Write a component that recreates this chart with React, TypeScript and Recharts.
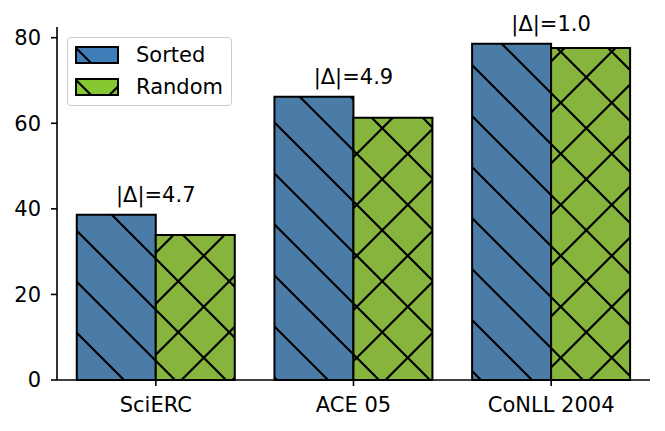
import { Bar, BarChart, LabelList, Legend, XAxis, YAxis } from "recharts";

const categories = ["SciERC", "ACE 05", "CoNLL 2004"];
const sortedScores = [38.6, 66.2, 78.6];
const randomScores = [33.9, 61.3, 77.6];
const deltaLabels = ["|Δ|=4.7", "|Δ|=4.9", "|Δ|=1.0"];
const yTicks = [0, 20, 40, 60, 80];

const font = "'DejaVu Sans', sans-serif";
const fontSize = 21;
const series = [
  { key: "sorted", label: "Sorted", color: "#4b7ba7", legendColor: "#3f7db8", hatch: "back" },
  { key: "random", label: "Random", color: "#86b43c", legendColor: "#86c832", hatch: "cross" },
] as const;

const data = categories.map((name, i) => ({
  name,
  sorted: sortedScores[i],
  random: randomScores[i],
  delta: deltaLabels[i],
}));

// hatch tiles, phase (51px period)
const backPath = "M-5,-4 L56,57 M-5,-55 L56,6 M-5,47 L56,108";
const fwdPath = "M-5,56.5 L56,-4.5 M-5,5.5 L56,-55.5 M-5,107.5 L56,46.5";

function Hatch({ id, color, kind }: { id: string; color: string; kind: "back" | "cross" }) {
  return (
    <pattern id={id} patternUnits="userSpaceOnUse" x={0} y={0} width={51} height={51}>
      <rect width={51} height={51} fill={color} />
      <path d={backPath} stroke="#000" strokeWidth={2.2} fill="none" />
      {kind === "cross" && <path d={fwdPath} stroke="#000" strokeWidth={2.2} fill="none" />}
    </pattern>
  );
}

function DeltaLabel(props: any) {
  const { x, y, width, value } = props;
  return (
    <text x={Number(x) + Number(width)} y={Number(y) - 12.5} textAnchor="middle"
      fontSize={fontSize} fontFamily={font} fill="#000">{value}</text>
  );
}

function HatchLegend() {
  return (
    <div style={{
      width: 163, height: 67, border: "1px solid #cccccc", borderRadius: 4, background: "rgba(255,255,255,0.8)",
      fontFamily: font, fontSize, color: "#000", boxSizing: "content-box",
    }}>
      {series.map((s, i) => (
        <div key={s.key} style={{ position: "absolute", left: 8, top: 9 + i * 32, display: "flex", alignItems: "center" }}>
          <svg width={44} height={18} style={{ display: "block" }}>
            <rect x={1} y={1} width={42} height={16} fill={`url(#legend-${s.key})`} stroke="#000" strokeWidth={2} />
          </svg>
          <span style={{ marginLeft: 17, lineHeight: "18px" }}>{s.label}</span>
        </div>
      ))}
    </div>
  );
}

export default function App() {
  return (
    <div style={{ position: "absolute", left: 0, top: 0, width: 665, height: 431, background: "#fff" }}>
      <svg width={0} height={0} style={{ position: "absolute" }}>
        <defs>
          {series.map((s) => <Hatch key={s.key} id={`hatch-${s.key}`} color={s.color} kind={s.hatch} />)}
          {series.map((s) => <Hatch key={s.key} id={`legend-${s.key}`} color={s.legendColor} kind={s.hatch} />)}
        </defs>
      </svg>
      <BarChart width={665} height={431} data={data} margin={{ top: 27, right: 15, bottom: 0, left: 0 }}
        barCategoryGap="10%" barGap={0}>
        <XAxis dataKey="name" height={51} tickSize={6} tickMargin={11} interval={0}
          axisLine={{ stroke: "#000", strokeWidth: 1.6 }} tickLine={{ stroke: "#000", strokeWidth: 1.6 }}
          tick={{ fill: "#000", fontSize, fontFamily: font }} />
        <YAxis width={57} domain={[0, 82.5]} ticks={yTicks} tickSize={6} tickMargin={10}
          axisLine={{ stroke: "#000", strokeWidth: 1.6 }} tickLine={{ stroke: "#000", strokeWidth: 1.6 }}
          tick={{ fill: "#000", fontSize, fontFamily: font }} />
        <Legend layout="horizontal" verticalAlign="middle" align="center"
          wrapperStyle={{ left: 67, top: 37, width: 165, height: 69 }} content={() => <HatchLegend />} />
        {series.map((s) => (
          <Bar key={s.key} dataKey={s.key} name={s.label} fill={`url(#hatch-${s.key})`}
            stroke="#000" strokeWidth={2} isAnimationActive={false}>
            {s.key === "sorted" && <LabelList dataKey="delta" content={DeltaLabel} />}
          </Bar>
        ))}
      </BarChart>
    </div>
  );
}
